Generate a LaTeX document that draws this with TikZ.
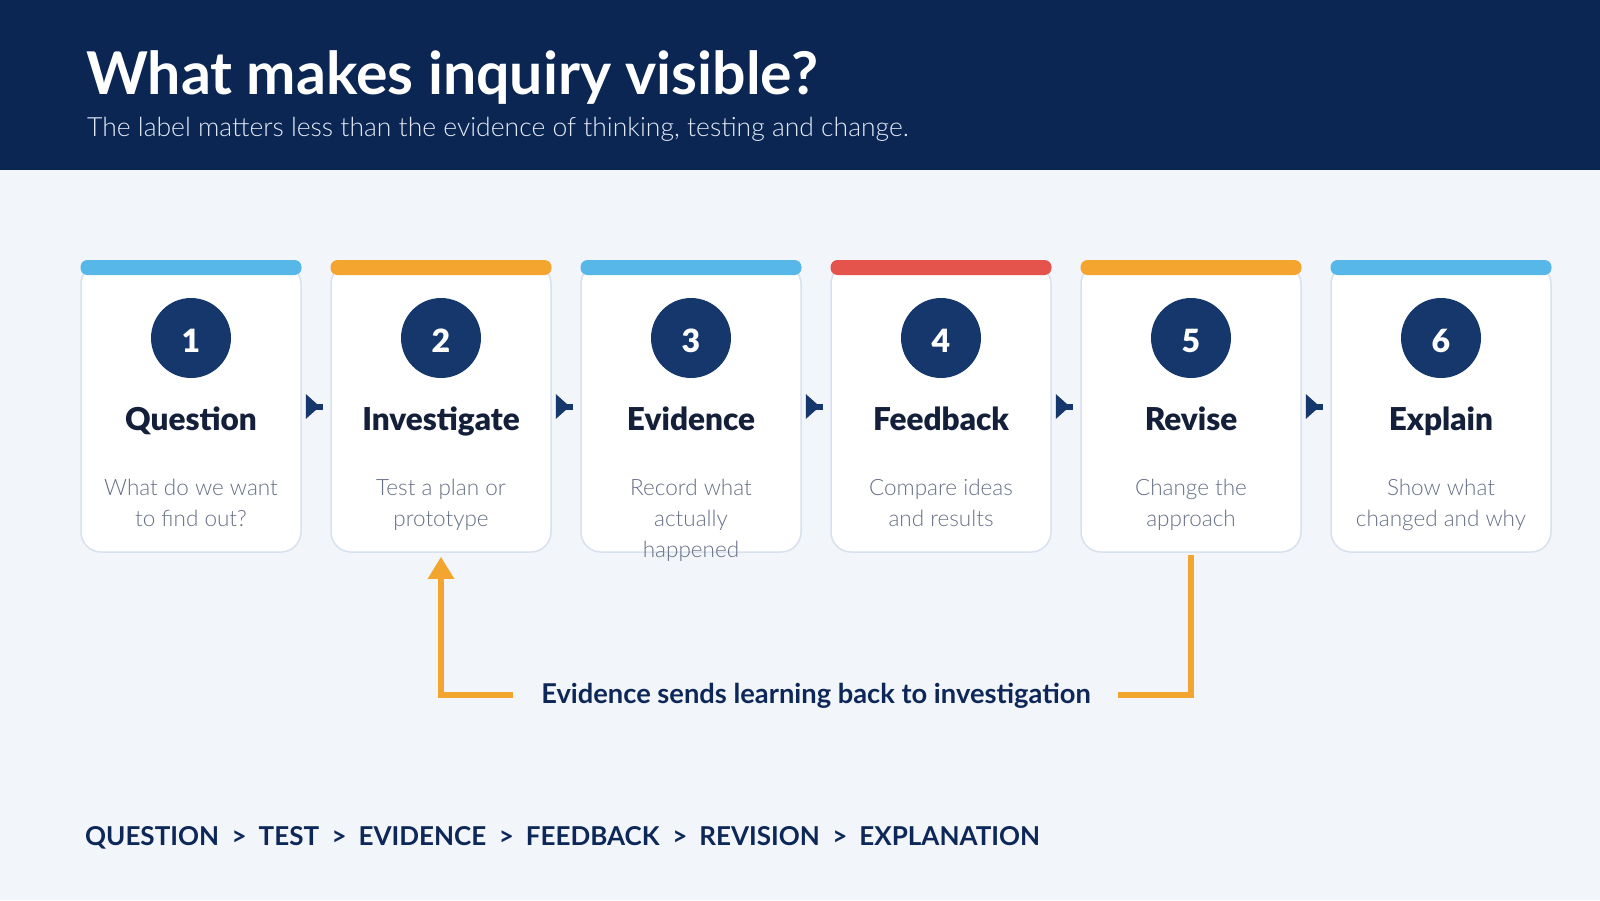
\documentclass[tikz,border=0pt]{standalone}
\usepackage{fontspec}
\setmainfont{Lato}
\newfontfamily\blackfont{Lato Black}
\newfontfamily\lightfont{Lato Light}
\usetikzlibrary{calc,arrows.meta}
\definecolor{navyhead}{HTML}{0B2653}
\definecolor{bgc}{HTML}{F2F5FA}
\definecolor{circ}{HTML}{16376C}
\definecolor{ttl}{HTML}{141F3A}
\definecolor{descc}{HTML}{667085}
\definecolor{cardline}{HTML}{D8E1EE}
\definecolor{barblue}{HTML}{56B7E8}
\definecolor{barorange}{HTML}{F4A52F}
\definecolor{barred}{HTML}{E4534C}
\definecolor{lblnavy}{HTML}{0D2858}
\definecolor{subc}{HTML}{E3EAF5}
\newcommand\sepx{\hspace{12.5pt}>\hspace{12pt}}
\begin{document}
\begin{tikzpicture}[x=1pt,y=-1pt,
 card/.style={draw=cardline, line width=1.5pt, fill=white, rounded corners=20pt, minimum width=220pt, minimum height=288pt, inner sep=0pt},
 bar/.style={rounded corners=7pt, minimum width=221pt, minimum height=15pt, inner sep=0pt},
 numc/.style={circle, fill=circ, minimum size=80pt, inner sep=0pt, text=white, text height=29pt, text depth=0pt, font=\fontsize{32}{32}\selectfont\blackfont},
 ttlst/.style={anchor=base, text=ttl, font=\fontsize{31.5}{34}\selectfont\blackfont, inner sep=0pt},
 descst/.style={anchor=north, align=center, text=descc, font=\fontsize{22.5}{31}\selectfont\lightfont, inner sep=0pt},
 feed/.style={draw=barorange, line width=6pt},
 headtxt/.style={anchor=base west, inner sep=0pt},
]
\useasboundingbox (0,0) rectangle (1600,900);
\fill[bgc] (0,0) rectangle (1600,900);
\fill[navyhead] (0,0) rectangle (1600,170);
\node[headtxt, text=white, font=\fontsize{59}{64}\selectfont\bfseries] (title) at (86,94) {What makes inquiry visible?};
\node[headtxt, text=subc, font=\fontsize{26.5}{30}\selectfont\lightfont] (sub) at (87,136) {The label matters less than the evidence of thinking, testing and change.};

\foreach \i/\col/\ti/\de in {1/barblue/Question/{What do we want\\to find out?},
  2/barorange/Investigate/{Test a plan or\\prototype},
  3/barblue/Evidence/{Record what\\actually\\happened},
  4/barred/Feedback/{Compare ideas\\and results},
  5/barorange/Revise/{Change the\\approach},
  6/barblue/Explain/{Show what\\changed and why}}{
  \pgfmathsetmacro\cx{191+250*(\i-1)}
  \node[card] (c\i) at (\cx,408) {};
  \node[bar, fill=\col] (b\i) at (\cx,267.5) {};
  \node[numc] (n\i) at (\cx,338) {\i};
  \node[ttlst] (t\i) at (\cx,430) {\ti};
  \node[descst] (d\i) at (\cx,479) {\de};
}
\foreach \i [evaluate=\i as \j using int(\i+1)] in {1,...,5}{
  \fill[circ] ($(c\i.east)+(4,-14)$) -- ($(c\i.east)+(4,11)$) -- ($(c\i.east)+(18,-1.5)$) -- cycle;
  \fill[circ] ($(c\i.east)+(12,-4.5)$) rectangle ($(c\j.west)+(-7,1.5)$);
}
\node[anchor=base, inner sep=0pt, text=lblnavy, font=\fontsize{27.3}{32}\selectfont\bfseries] (lbl) at (816,703) {Evidence sends learning back to investigation};
\coordinate (lf) at (513,695);
\coordinate (rt) at (1118,695);
\draw[feed] ($(c5.south)+(0,2)$) |- (rt);
\draw[feed, -{Triangle[length=22pt,width=25pt]}] (lf) -| ($(c2.south)+(0,4)$);
\node[headtxt, text=lblnavy, font=\fontsize{26}{30}\selectfont\bfseries] (chain) at (85,845) {QUESTION\sepx TEST\sepx EVIDENCE\sepx FEEDBACK\sepx REVISION\sepx EXPLANATION};
\end{tikzpicture}
\end{document}
